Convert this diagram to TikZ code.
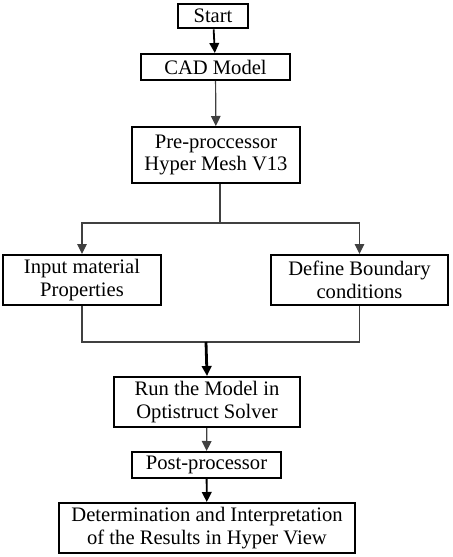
\documentclass[tikz,border=0pt]{standalone}
\usepackage{fontspec}
\setmainfont{Liberation Serif}
\usepackage{xcolor}
\usetikzlibrary{positioning,arrows.meta}

\begin{document}
\begin{tikzpicture}[x=0.5pt,y=-0.5pt,
									stepbox/.style = {rectangle, draw, line width=1pt, align=center, inner sep=0pt, font=\fontsize{10.3}{11.3}\selectfont},
									link/.style = {line width=0.6pt, draw=black!75},
									arr/.style = {link, -{Triangle[width=4.8pt,length=5pt]}}]
					\useasboundingbox (0,0) rectangle (453,557);
					\node[stepbox, line width=1.3pt, minimum width=35pt, minimum height=12pt] (start) at (213,16) {Start};
					\node[stepbox, minimum width=74.5pt, minimum height=13pt] (cad) at (215.5,67) {CAD Model};
					\node[stepbox, minimum width=84pt, minimum height=28pt] (pre) at (216,155) {Pre-proccessor\\Hyper Mesh V13};
					\node[stepbox, minimum width=79pt, minimum height=25pt] (input) at (82,280) {Input material\\Properties};
					\node[stepbox, minimum width=88.5pt, minimum height=25pt] (bound) at (359.5,280) {Define Boundary\\conditions};
					\node[stepbox, minimum width=93pt, minimum height=25pt] (run) at (207,402) {Run the Model in\\Optistruct Solver};
					\node[stepbox, minimum width=74.5pt, minimum height=13pt] (post) at (206.5,465) {Post-processor};
					\node[stepbox, minimum width=148pt, minimum height=25pt] (result) at (207,528) {Determination and Interpretation\\of the Results in Hyper View};
					
					\coordinate (split) at (220,223);
					\coordinate (join) at (206,342);
					
					\draw[arr, line width=0.9pt, draw=black] (start) to (cad);
					\draw[arr] (cad) to (pre);
					
					\draw[link] (pre.south -| split) to (split);
					\draw[arr] (split) -| (input.north);
					\draw[arr] (split) -| (bound.north);
					
					\draw[link] (input.south) |- (join);
					\draw[link] (bound.south) |- (join);
					\draw[arr, line width=1.4pt, draw=black] (join) to (run.north);
					
					\draw[arr] (run) to (post);
					\draw[arr, line width=0.9pt, draw=black] (post) to (result);
				\end{tikzpicture}
\end{document}
